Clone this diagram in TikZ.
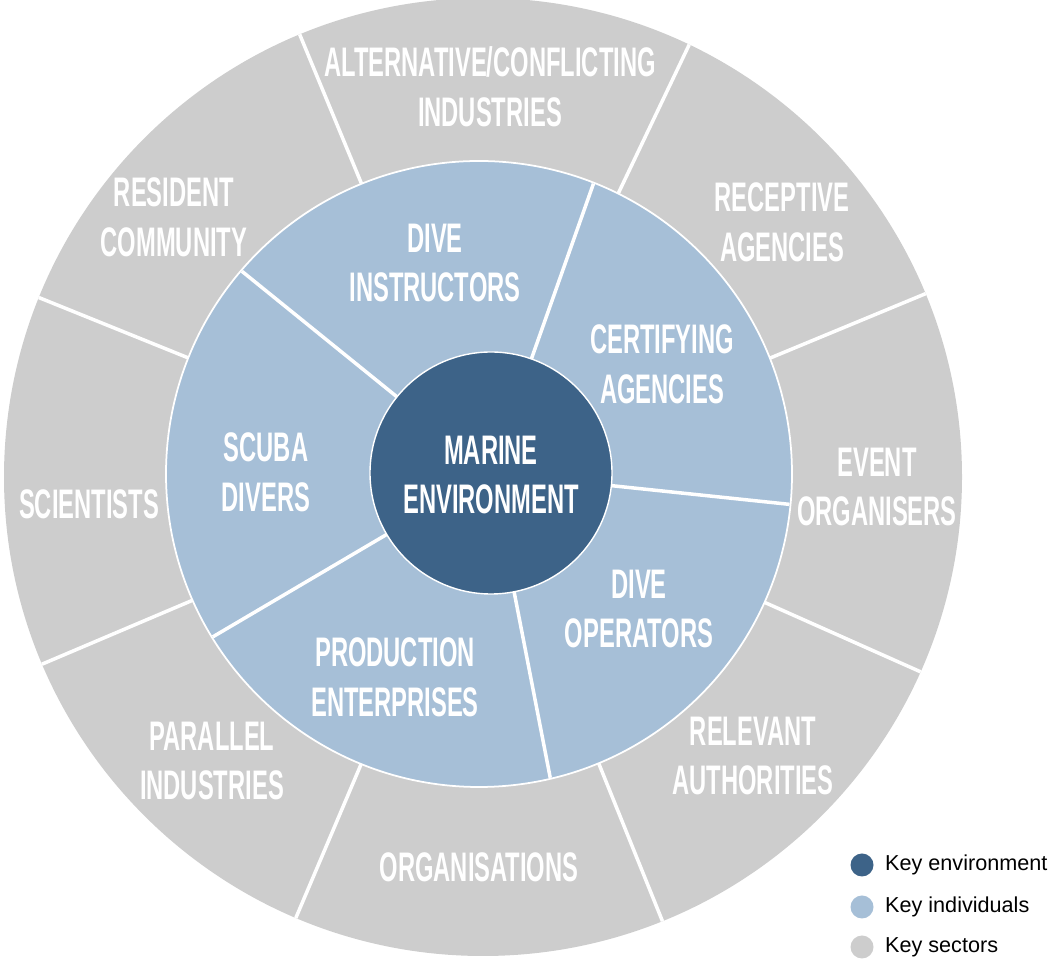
\documentclass[tikz,border=0pt]{standalone}
\usepackage{fontspec}
\setmainfont{Liberation Sans}
\newfontfamily\ringfont[FakeStretch=0.575]{Liberation Sans}
\usetikzlibrary{calc, positioning}

\definecolor{envblue}{HTML}{3D6388}
\definecolor{indblue}{HTML}{A6BFD7}
\definecolor{sectgray}{HTML}{CDCDCD}

\tikzset{
	ringlabel/.style={text=white, align=center, inner sep=0pt,
		font=\ringfont\bfseries\fontsize{23.5}{28.4}\selectfont},
	divider/.style={white, line width=2pt},
	keydot/.style={circle, inner sep=0pt, minimum size=0.46cm},
	keytext/.style={right=0.22cm of #1, inner sep=0pt, font=\fontsize{12.3}{14}\selectfont}
}

\begin{document}
\begin{tikzpicture}[x=0.02cm, y=0.02cm]
		\useasboundingbox (0,0) rectangle (1052,963);
		\coordinate (O) at (483,486);
		\coordinate (M) at (479,489);
		\coordinate (E) at (491,490);

		\fill[sectgray] (O) circle (479);
		\begin{scope}
			\clip (O) circle (479);
			\foreach \a in {112.5,64.5,22.5,-24,-68,-113,-157,158}
				\draw[divider] (O) -- ++(\a:520);
		\end{scope}

		\filldraw[fill=indblue, draw=white, line width=1pt] (M) circle (313);
		\begin{scope}
			\clip (M) circle (312);
			\foreach \a in {141,70.5,-6,-79,210.5}
				\draw[divider] (E) -- ++(\a:360);
		\end{scope}

		\filldraw[fill=envblue, draw=white, line width=0.8pt] (E) circle (121);

		\node[ringlabel] (altind) at (490,876) {ALTERNATIVE/CONFLICTING\\INDUSTRIES};
		\node[ringlabel] (recag) at (782,741) {RECEPTIVE\\AGENCIES};
		\node[ringlabel] (evorg) at (877,476) {EVENT\\ORGANISERS};
		\node[ringlabel] (relauth) at (753,207) {RELEVANT\\AUTHORITIES};
		\node[ringlabel] (orgs) at (479,96) {ORGANISATIONS};
		\node[ringlabel] (parind) at (212,202) {PARALLEL\\INDUSTRIES};
		\node[ringlabel] (sci) at (89,459) {SCIENTISTS};
		\node[ringlabel] (rescom) at (174,746) {RESIDENT\\COMMUNITY};

		\node[ringlabel] (diveinst) at (435,700) {DIVE\\INSTRUCTORS};
		\node[ringlabel] (certag) at (662,599) {CERTIFYING\\AGENCIES};
		\node[ringlabel] (diveop) at (639,354) {DIVE\\OPERATORS};
		\node[ringlabel] (prodent) at (395,286) {PRODUCTION\\ENTERPRISES};
		\node[ringlabel] (scuba) at (266,491) {SCUBA\\DIVERS};

		\node[ringlabel] (marine) at (491,488) {MARINE\\ENVIRONMENT};

		\node[keydot, fill=envblue] (dotenv) at (862,98) {};
		\node[keydot, fill=indblue] (dotind) at (862,56) {};
		\node[keydot, fill=sectgray] (dotsec) at (862,16) {};
		\node[keytext=dotenv] (keyenv) {Key environment};
		\node[keytext=dotind] (keyind) {Key individuals};
		\node[keytext=dotsec] (keysec) {Key sectors};
	\end{tikzpicture}
\end{document}
